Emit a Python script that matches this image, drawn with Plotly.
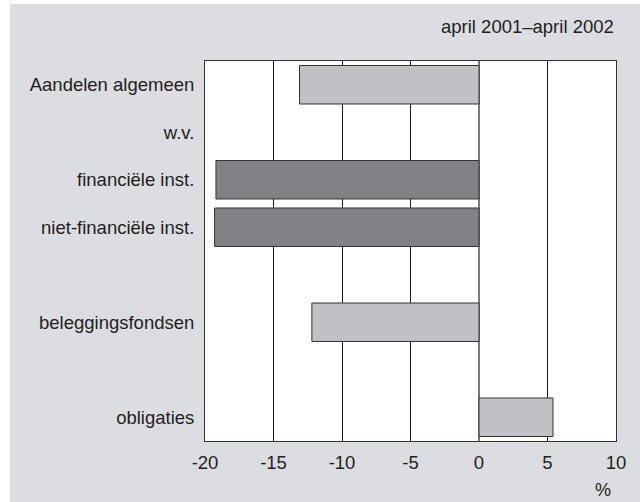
import plotly.graph_objects as go

# ── palette ─────────────────────────────────────────────
PANEL = "#DCDDE1"
LIGHT = "#C0C1C4"
DARK = "#808285"
EDGE = "#333333"
INK = "#231F20"

# ── data (blank strings are spacer rows) ────────────────
categories = [
    "Aandelen algemeen",
    "w.v.",
    "financiële inst.",
    "niet-financiële inst.",
    " ",
    "beleggingsfondsen",
    "  ",
    "obligaties",
]
values = [-13.1, None, -19.2, -19.3, None, -12.2, None, 5.4]
bar_colors = [LIGHT, LIGHT, DARK, DARK, LIGHT, LIGHT, LIGHT, LIGHT]
x_ticks = [-20, -15, -10, -5, 0, 5, 10]

W, H = 640, 502
M = dict(l=205, r=24, t=61, b=61)
pw = W - M["l"] - M["r"]
ph = H - M["t"] - M["b"]

fig = go.Figure()
fig.add_trace(go.Bar(
    y=categories, x=values, orientation="h",
    marker=dict(color=bar_colors, line=dict(color=EDGE, width=1)),
    hoverinfo="x+y", showlegend=False,
))

# grey panel behind everything (white strip on left/top as in the source)
fig.add_shape(
    type="rect", xref="paper", yref="paper", layer="below",
    x0=(10 - M["l"]) / pw, x1=(W - M["l"]) / pw,
    y0=(-M["b"]) / ph, y1=(H - 4 - M["b"]) / ph,
    fillcolor=PANEL, line=dict(width=0),
)
# white plot area on top of the panel
fig.add_shape(
    type="rect", xref="paper", yref="paper", layer="below",
    x0=0, x1=1, y0=0, y1=1, fillcolor="white", line=dict(width=0),
)

fig.add_annotation(text="april 2001–april 2002", xref="paper", yref="paper",
                   x=1, y=(H - M["b"] - 27) / ph, xanchor="right", yanchor="middle",
                   showarrow=False, font=dict(size=18.5, color=INK))
fig.add_annotation(text="%", xref="paper", yref="paper",
                   x=(603 - M["l"]) / pw, y=-(490 - M["t"] - ph) / ph, xanchor="center", yanchor="middle",
                   showarrow=False, font=dict(size=18, color=INK))

fig.update_layout(
    width=W, height=H,
    margin=M,
    paper_bgcolor="white",
    plot_bgcolor="rgba(0,0,0,0)",
    font=dict(family="Liberation Sans, Arial, sans-serif", size=18.5, color=INK),
    bargap=0.19,
)
fig.update_xaxes(
    range=[-20, 10], tickvals=x_ticks, ticktext=[str(v) for v in x_ticks],
    showgrid=True, gridcolor="#1A1A1A", gridwidth=1,
    zeroline=True, zerolinecolor="#7A7A7A", zerolinewidth=2,
    showline=True, linecolor=EDGE, linewidth=1, mirror=True,
    ticks="", ticklabelstandoff=5,
)
fig.update_yaxes(
    type="category", categoryorder="array", categoryarray=categories,
    autorange="reversed", showgrid=False, zeroline=False,
    showline=True, linecolor=EDGE, linewidth=1, mirror=True,
    ticks="", ticklabelstandoff=6,
)

fig.write_html("out.html", config={"displayModeBar": False},
               post_script="document.body.style.margin='0';")
